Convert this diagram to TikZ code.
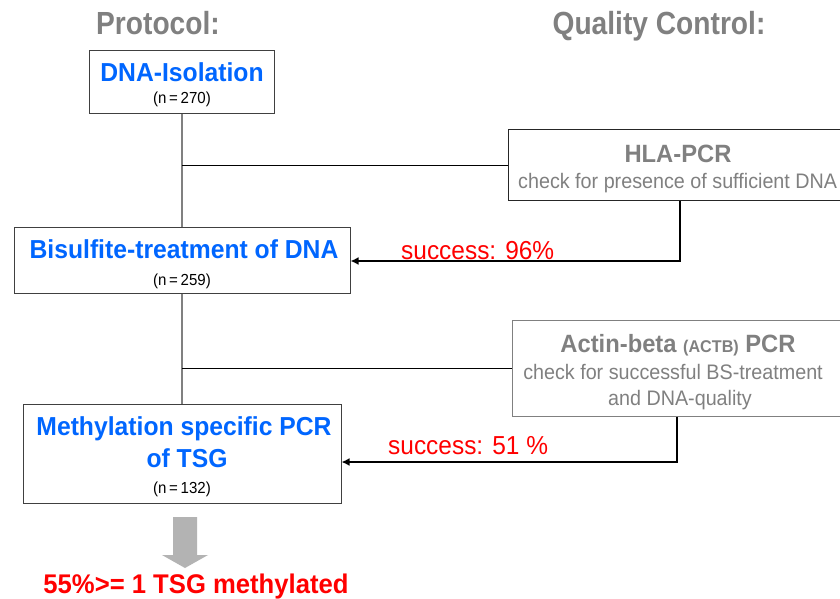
\documentclass[tikz,border=0pt]{standalone}
\usepackage{fontspec}
\setmainfont{Liberation Sans}
\newfontfamily\hcond[FakeStretch=0.88]{Liberation Sans}
\newfontfamily\bcond[FakeStretch=0.95]{Liberation Sans}
\newfontfamily\rcond[FakeStretch=0.94]{Liberation Sans}
\usetikzlibrary{arrows.meta}
\definecolor{tblue}{RGB}{0,102,255}
\definecolor{tgray}{RGB}{128,128,128}
\definecolor{tred}{RGB}{255,0,0}
\definecolor{boxline}{RGB}{64,64,64}
\definecolor{arrgray}{RGB}{179,179,179}
\tikzset{
  header/.style={anchor=base,inner sep=0,text=tgray,font=\hcond\bfseries\fontsize{32}{34}\selectfont},
  stepbox/.style={draw=boxline,line width=1pt,rectangle,inner sep=0},
  qcbox/.style={draw=#1,line width=1pt,rectangle,inner sep=0},
  btitle/.style={anchor=base,inner sep=0,text=tblue,font=\bcond\bfseries\fontsize{26}{28}\selectfont},
  gtitle/.style={anchor=base,inner sep=0,text=tgray,font=\bcond\bfseries\fontsize{25}{27}\selectfont},
  gtext/.style={anchor=base,inner sep=0,text=tgray,font=\rcond\fontsize{21}{23}\selectfont},
  ntext/.style={anchor=base,inner sep=0,text=black,font=\rcond\fontsize{16}{18}\selectfont},
  rtext/.style={anchor=base,inner sep=0,text=tred,font=\rcond\fontsize{26}{28}\selectfont},
  vline/.style={draw=tgray,line width=1.5pt},
  hline/.style={draw=black,line width=0.9pt},
  qarrow/.style={draw=black,line width=2.2pt,-{Latex[length=8pt,width=8pt]}},
}
\begin{document}
\begin{tikzpicture}[x=1pt,y=-1pt]
\useasboundingbox (0,0) rectangle (840,599);
\clip (0,0) rectangle (840,599);
\fill[white] (0,0) rectangle (840,599);

% headers
\node[header] (hp) at (158,35) {Protocol:};
\node[header] (hq) at (659,35) {Quality Control:};

% protocol boxes
\node[stepbox,minimum width=185pt,minimum height=63pt] (iso) at (182,82.5) {};
\node[stepbox,minimum width=336pt,minimum height=66pt] (bis) at (182,260) {};
\node[stepbox,minimum width=318pt,minimum height=99pt] (msp) at (182,453.5) {};

% quality control boxes
\node[qcbox=black!85,minimum width=340pt,minimum height=70pt] (hla) at (678,165) {};
\node[qcbox=tgray,minimum width=332pt,minimum height=96pt] (act) at (678,368) {};

% texts in protocol boxes
\node[btitle] (isoT) at (182,82) {DNA-Isolation};
\node[ntext] (isoN) at (182,104) {(n\,=\,270)};
\node[btitle] (bisT) at (184,258) {Bisulfite-treatment of DNA};
\node[ntext] (bisN) at (182,285) {(n\,=\,259)};
\node[btitle] (mspT1) at (184,435) {Methylation specific PCR};
\node[btitle] (mspT2) at (187,467) {of TSG};
\node[ntext] (mspN) at (182,493) {(n\,=\,132)};

% texts in QC boxes
\node[gtitle] (hlaT) at (678,162) {HLA-PCR};
\node[gtext,anchor=base west] (hlaC) at (518,188) {check for presence of sufficient DNA};
\node[gtitle] (actT) at (678,352) {Actin-beta {\fontsize{17}{19}\selectfont(ACTB)} PCR};
\node[gtext] (actC1) at (673,379) {check for successful BS-treatment};
\node[gtext] (actC2) at (680,405) {and DNA-quality};

% connectors
\draw[vline] (iso.south) -- (bis.north);
\draw[vline] (bis.south) -- (msp.north);
\draw[hline] (iso.south |- hla.west) -- (hla.west);
\draw[hline] (bis.south |- act.west) -- (act.west);
\draw[qarrow] ([xshift=2pt]hla.south) |- ([yshift=-1pt]bis.east);
\draw[qarrow] ([xshift=-1pt]act.south) |- ([yshift=-8.5pt]msp.east);

% success labels
\node[rtext,anchor=base west] (s1) at (401,259) {success: 96\%};
\node[rtext,anchor=base west] (s2) at (388,454) {success: 51 \%};

% result arrow
\fill[arrgray] (173,517) -- (197,517) -- (197,555) -- (208,555) -- (185,568) -- (162,555) -- (173,555) -- cycle;
\node[anchor=base,inner sep=0,text=tred,font=\bcond\bfseries\fontsize{27}{29}\selectfont] (res) at (196,593) {55\%>= 1 TSG methylated};
\end{tikzpicture}
\end{document}
